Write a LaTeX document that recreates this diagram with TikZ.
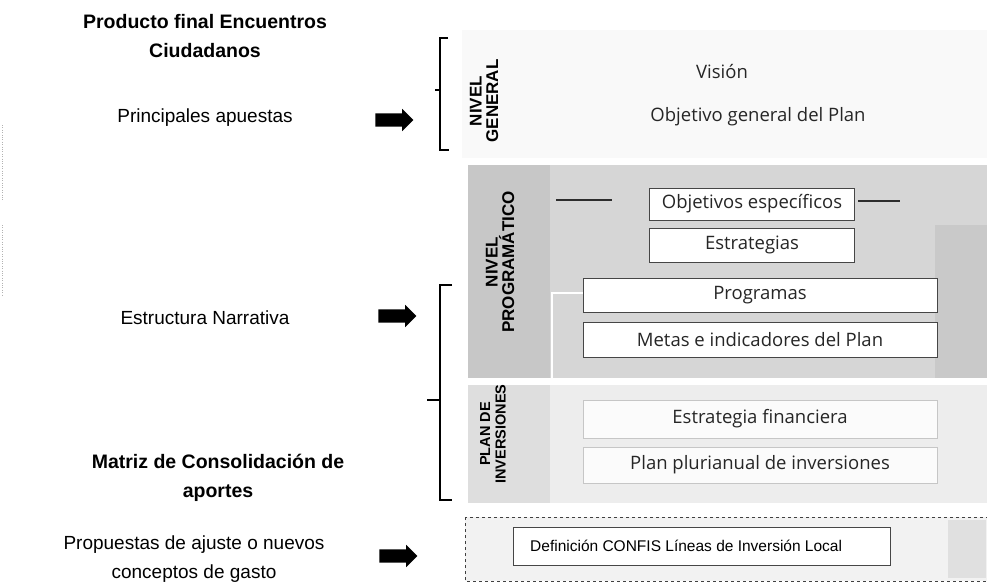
\documentclass[tikz,border=0pt]{standalone}
\usepackage{fontspec}
\setmainfont{Liberation Sans}
\newfontfamily\boxfont{Open Sans}
\usetikzlibrary{shapes.arrows}
\begin{document}
\begin{tikzpicture}[x=1pt,y=-1pt,
  lefttxt/.style={font=\fontsize{19}{29}\selectfont, align=center, inner sep=0pt},
  lefttitle/.style={font=\bfseries\fontsize{19.5}{29}\selectfont, align=center, inner sep=0pt},
  blockarrow/.style={single arrow, fill=black, draw=none, minimum height=38pt, inner xsep=0pt, inner ysep=6.5pt, single arrow head extend=4.5pt, single arrow tip angle=90},
  whitebox/.style={draw=gray!55!black, line width=0.7pt, fill=white, inner sep=0pt, font=\boxfont\fontsize{18.5}{22}\selectfont, text=black!85},
  lightbox/.style={draw=gray!45, line width=0.6pt, fill=gray!3, inner sep=0pt, font=\boxfont\fontsize{18.5}{22}\selectfont, text=black!85},
  plaintxt/.style={font=\boxfont\fontsize{18.5}{22}\selectfont, text=black!85, inner sep=0pt},
  vlabel/.style={rotate=90, font=\bfseries\fontsize{17}{16.5}\selectfont, align=center, inner sep=0pt},
  brk/.style={line width=2.5pt, black},
  streak/.style={gray!35!black, line width=1.2pt}
]
\useasboundingbox (0,0) rectangle (987,581);
\fill[white] (0,0) rectangle (987,581);

% panels
\fill[gray!5] (462,30) rectangle (987,158);
\fill[gray!32] (468,165) rectangle (987,378);
\fill[gray!44] (468,165) rectangle (550,378);
\fill[gray!42] (935,225) rectangle (987,378);
\fill[gray!14] (468,385) rectangle (987,503);
\fill[gray!26] (468,385) rectangle (550,503);
\draw[dashed, gray!50!black, fill=gray!10] (465,517) rectangle (987,581);
\fill[gray!24] (948,520) rectangle (986,578);

% separators and streaks
\draw[white, line width=1.5pt] (552,378) -- (552,293) -- (583,293);
\draw[streak] (556,200) -- (612,200);
\draw[streak] (858,201) -- (900,201);

% brackets
\draw[brk] (448,38) -- (440,38) -- (440,150) -- (449,150);
\draw[brk] (440,90) -- (435,90);
\draw[brk] (452,285) -- (440,285) -- (440,500) -- (452,500);
\draw[brk] (440,400) -- (427,400);

% vertical labels
\node[vlabel] (lg) at (484,101) {NIVEL\\GENERAL};
\node[vlabel] (lp) at (500,262) {NIVEL\\PROGRAMÁTICO};
\node[vlabel, font=\bfseries\fontsize{14.5}{15.5}\selectfont] (li) at (493,434) {PLAN DE\\INVERSIONES};

% general level
\node[plaintxt] (vis) at (722,72) {Visión};
\node[plaintxt] (objg) at (758,117) {Objetivo general del Plan};

% programmatic level
\node[whitebox, minimum width=205pt, minimum height=32pt] (obj) at (752,204) {Objetivos específicos};
\node[whitebox, minimum width=205pt, minimum height=34pt] (estr) at (752,245) {Estrategias};
\node[whitebox, minimum width=354pt, minimum height=34pt] (prog) at (760,295) {Programas};
\node[whitebox, minimum width=354pt, minimum height=35pt] (metas) at (760,339.5) {Metas e indicadores del Plan};

% investment plan
\node[lightbox, minimum width=354pt, minimum height=38pt] (estfin) at (760,419) {Estrategia financiera};
\node[lightbox, minimum width=354pt, minimum height=36pt] (plan) at (760,465) {Plan plurianual de inversiones};

% bottom
\node[draw=gray!55!black, line width=0.7pt, fill=white, minimum width=377pt, minimum height=38pt, inner sep=0pt] (confis) at (701.5,546) {};
\node[anchor=west, font=\fontsize{15.5}{18}\selectfont, inner sep=0pt] (confist) at (530,546) {Definición CONFIS Líneas de Inversión Local};

% left column
\node[lefttitle] (t1) at (205,36.5) {Producto final Encuentros\\Ciudadanos};
\node[lefttxt] (pa) at (205,118) {Principales apuestas};
\node[lefttxt] (en) at (205,318) {Estructura Narrativa};
\node[lefttitle] (mc) at (218,477.5) {Matriz de Consolidación de\\aportes};
\node[lefttxt] (pr) at (194,559.5) {Propuestas de ajuste o nuevos\\conceptos de gasto};

% arrows
\node[blockarrow] (a1) at (391,120) {};
\node[blockarrow] (a2) at (394,316) {};
\node[blockarrow] (a3) at (395,556) {};

% faint scan line on the left
\draw[gray!60, dotted] (2,125) -- (2,200);
\draw[gray!60, dotted] (2,225) -- (2,295);
\end{tikzpicture}
\end{document}
